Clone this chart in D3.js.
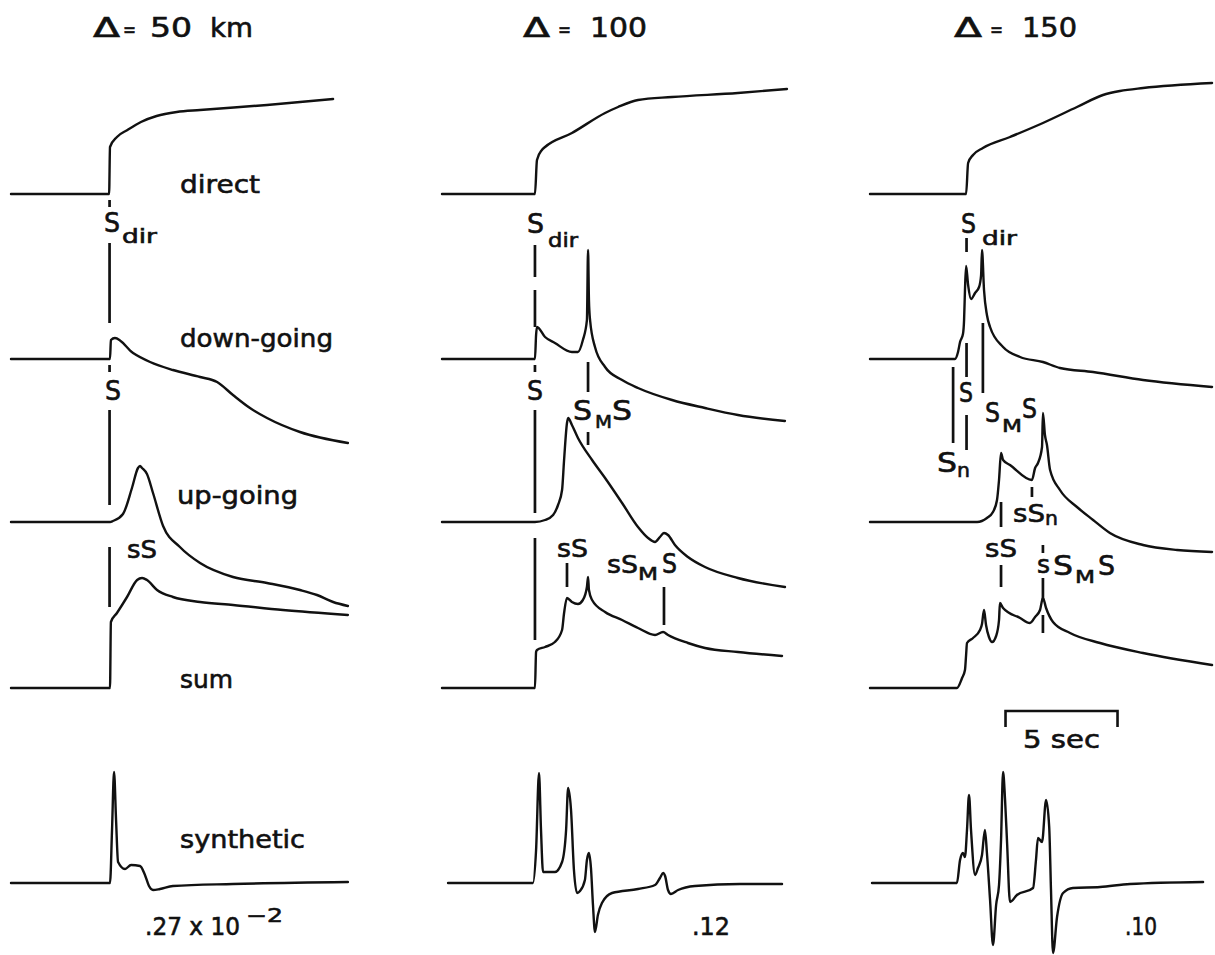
<!DOCTYPE html>
<html>
<head>
<meta charset="utf-8">
<script src="https://cdn.jsdelivr.net/npm/d3@7"></script>
<style>
  html, body { margin: 0; padding: 0; background: #fff; }
  svg { display: block; }
  text { font-family: "DejaVu Sans", sans-serif; fill: #111; stroke: #111; stroke-width: 0.6px; }
</style>
</head>
<body>
<svg id="fig" width="1215" height="955"></svg>
<script>
// Epicentral distances (km) and synthetic peak amplitudes
const distances = [50, 100, 150];
const rowNames = ["direct", "down-going", "up-going", "sum", "synthetic"];
const peakAmps = [".27 x 10", ".12", ".10"];

// Traces: [time (s), amplitude (relative units)]
const direct50 = [[0,0],[4.38,0],[4.42,4.7],[4.73,5.7],[5.2,6.4],[5.8,7.2],[6.5,7.8],[7.4,8.2],[8.44,8.4],[11.43,8.9],[14.38,9.5]];
const down50 = [[0,0],[4.42,0],[4.46,1.9],[4.64,2.1],[5.45,0.6],[6.21,-0.3],[7.23,-1.1],[8.44,-1.8],[9.2,-2.3],[9.91,-3.6],[10.67,-4.9],[11.43,-5.9],[12.9,-7.3],[15.04,-8.4]];
const up50 = [[0,0],[4.42,0],[4.55,0.1],[5.0,0.8],[5.4,3.4],[5.67,5.4],[5.76,5.6],[5.85,5.4],[6.07,4.8],[6.34,2.9],[6.79,-0.4],[7.54,-2.5],[8.44,-4.1],[9.91,-5.5],[11.43,-6.1],[12.9,-6.8],[13.66,-7.3],[14.38,-8.0],[15.04,-8.4]];
const sum50 = [[0,0],[4.42,0],[4.46,6.6],[4.73,7.5],[5.18,9.1],[5.63,10.8],[5.85,11.0],[6.07,10.8],[6.52,9.8],[7.23,9.1],[8.44,8.6],[9.91,8.3],[12.14,7.8],[15.04,7.3]];
const synth50 = [[0,0],[4.42,0],[4.51,5.3],[4.6,11.1],[4.69,6.3],[4.78,2.1],[5.09,1.4],[5.36,1.8],[5.76,1.7],[5.98,0.8],[6.16,-0.3],[6.34,-0.7],[6.65,-0.6],[7.23,-0.3],[9.91,-0.1],[15.04,0.1]];

const direct100 = [[0,0],[4.15,0],[4.24,3.4],[4.46,4.4],[4.6,4.7],[5.8,6.1],[7.28,8.1],[7.86,8.7],[8.75,9.4],[10.27,9.7],[13.21,10.1],[15.4,10.5]];
const down100 = [[0,0],[4.15,0],[4.2,2.4],[4.24,3.2],[4.6,2.2],[5.04,1.6],[5.8,0.7],[6.07,0.7],[6.29,1.9],[6.47,3.9],[6.52,10.9],[6.56,5.9],[6.61,3.9],[6.83,1.2],[7.28,-0.8],[8.04,-2.1],[8.75,-2.9],[10.27,-4.1],[11.74,-4.9],[13.21,-5.6],[15.31,-6.2]];
const up100 = [[0,0],[4.15,0],[4.6,0.2],[4.96,0.7],[5.18,1.7],[5.36,3.2],[5.45,6.2],[5.58,9.9],[5.63,10.4],[5.8,9.7],[6.07,8.4],[6.7,6.2],[7.28,4.4],[8.04,1.9],[8.75,-0.5],[9.2,-1.6],[9.51,-2.0],[9.73,-1.5],[9.91,-1.1],[10.09,-1.3],[10.4,-2.3],[10.98,-3.5],[11.74,-4.5],[13.21,-5.6],[15.31,-6.5]];
const sum100 = [[0,0],[4.15,0],[4.2,3.6],[4.24,3.8],[4.6,4.1],[5.04,4.6],[5.36,5.8],[5.45,7.5],[5.58,9.0],[5.8,8.6],[6.07,8.4],[6.29,8.8],[6.47,10.1],[6.52,11.1],[6.56,9.8],[6.7,8.8],[7.28,7.6],[8.04,6.8],[8.75,6.0],[9.51,5.3],[9.87,5.6],[10.09,5.3],[10.98,4.5],[11.74,4.0],[13.21,3.6],[15.18,3.2]];
const synth100 = [[0.27,0],[4.06,0],[4.2,3.3],[4.33,11.0],[4.42,5.3],[4.51,1.1],[5.04,1.1],[5.36,2.1],[5.54,5.3],[5.63,9.5],[5.76,7.3],[5.89,1.3],[6.03,-1.0],[6.16,-0.8],[6.38,0.3],[6.47,2.3],[6.56,3.0],[6.65,1.5],[6.74,-2.2],[6.83,-4.9],[6.96,-3.2],[7.14,-2.0],[7.59,-1.0],[8.75,-0.6],[9.51,-0.2],[9.73,0.5],[9.87,1.0],[9.96,0.7],[10.09,-0.7],[10.22,-1.1],[10.54,-0.7],[11.29,-0.3],[13.3,-0.1],[15.18,-0.1]];

const direct150 = [[0,0],[4.29,0],[4.38,3.1],[4.6,3.9],[5.04,4.6],[6.25,5.7],[7.72,7.1],[9.24,8.7],[10.4,9.9],[11.16,10.3],[12.19,10.6],[15.27,11.1]];
const down150 = [[0,0],[3.79,0],[3.93,0.7],[4.02,1.7],[4.15,2.5],[4.2,3.9],[4.24,6.9],[4.29,9.3],[4.38,7.4],[4.51,6.0],[4.69,6.6],[4.87,7.2],[4.96,8.4],[5.0,10.9],[5.09,6.9],[5.22,4.4],[5.36,3.2],[5.94,1.2],[6.7,0.2],[7.72,-0.3],[8.48,-0.9],[9.96,-1.3],[12.19,-2.1],[15.27,-2.8]];
const up150 = [[0,0],[4.78,0],[5.22,0.4],[5.49,1.0],[5.67,2.2],[5.76,4.2],[5.85,6.9],[5.94,6.2],[6.25,5.7],[7.23,4.2],[7.37,5.4],[7.5,5.9],[7.68,7.5],[7.72,10.9],[7.81,8.7],[7.9,7.7],[8.04,5.2],[8.48,3.2],[9.24,1.5],[9.96,0.2],[10.71,-1.1],[12.19,-2.3],[13.71,-2.8],[15.27,-3.0]];
const sum150 = [[0,0],[3.88,0],[4.11,1.0],[4.24,1.8],[4.29,3.3],[4.33,4.5],[4.6,5.0],[4.91,5.8],[5.0,6.4],[5.09,7.8],[5.18,6.3],[5.31,5.1],[5.45,4.6],[5.63,5.2],[5.76,6.8],[5.8,8.5],[5.94,8.0],[6.7,7.0],[7.14,6.5],[7.37,7.1],[7.59,7.8],[7.72,9.0],[7.86,8.0],[8.17,6.6],[8.93,5.5],[10.27,4.5],[12.19,3.5],[15.27,2.3]];
const synth150 = [[0.09,0],[3.88,0],[4.02,2.3],[4.15,3.0],[4.24,2.6],[4.33,5.3],[4.42,8.8],[4.51,5.3],[4.69,0.8],[4.82,1.5],[5.0,2.8],[5.13,5.3],[5.22,3.0],[5.36,-1.7],[5.49,-6.2],[5.63,-2.2],[5.76,-0.2],[5.85,4.3],[5.94,11.1],[6.03,8.3],[6.12,4.0],[6.25,-1.9],[6.56,-1.2],[7.28,-0.5],[7.41,2.3],[7.5,4.5],[7.68,4.1],[7.86,8.3],[8.0,5.6],[8.08,-0.7],[8.17,-7.0],[8.35,-3.4],[8.62,-1.0],[9.06,-0.5],[10.27,-0.4],[11.61,-0.1],[14.87,0.1]];

// Phase arrival times (s)
const arrivals50 = [["Sdir", 4.40], ["S", 4.40], ["sS", 4.40]];
const arrivals100 = [["Sdir", 4.15], ["S", 4.15], ["SMS", 6.52], ["sS", 5.58], ["sSMS", 9.91]];
const arrivals150 = [["Sdir", 4.31], ["S", 4.31], ["Sn", 3.71], ["SMS", 5.04], ["sS", 5.85], ["sSn", 7.23], ["sSMS", 7.72]];

// ---- layout ----
const svg = d3.select("#fig");
const colX0 = [11, 442, 870];          // left edge of each distance column
const pxPerSec = 22.4;
const rowBase = [194, 359, 522, 688, 883]; // zero line of each trace row
const ampPx = 10;                        // pixels per amplitude unit

const traces = [
  [direct50, down50, up50, sum50, synth50],
  [direct100, down100, up100, sum100, synth100],
  [direct150, down150, up150, sum150, synth150]
];
const arrivals = [arrivals50, arrivals100, arrivals150];

// vertical extents of the arrival marks, per column and phase
const markSpans = [
  { Sdir: [[200,207],[243,323]], S: [[365,372],[410,505]], sS: [[547,607]] },
  { Sdir: [[245,277],[290,327]], S: [[365,372],[410,513],[538,640]], SMS: [[362,392],[432,445]], sS: [[563,587]], sSMS: [[587,625]] },
  { Sdir: [[238,252]], S: [[343,377],[415,450]], Sn: [[367,443]], SMS: [[323,393]], sS: [[502,527],[565,587]], sSn: [[487,497]], sSMS: [[545,553],[578,600],[615,633]] }
];

const traceG = svg.append("g")
  .attr("fill", "none").attr("stroke", "#111")
  .attr("stroke-width", 2.4).attr("stroke-linejoin", "round").attr("stroke-linecap", "round");
const markG = svg.append("g").attr("stroke", "#111").attr("stroke-width", 2.7);

traces.forEach((rows, c) => {
  const x = d3.scaleLinear().domain([0, 5]).range([colX0[c], colX0[c] + 5 * pxPerSec]);
  rows.forEach((series, r) => {
    const y = d3.scaleLinear().domain([0, 10]).range([rowBase[r], rowBase[r] - 10 * ampPx]);
    const line = d3.line().x(d => x(d[0])).y(d => y(d[1])).curve(d3.curveMonotoneX);
    traceG.append("path").attr("d", line(series));
  });
  arrivals[c].forEach(([name, t]) => {
    (markSpans[c][name] || []).forEach(([y1, y2]) => {
      markG.append("line").attr("x1", x(t)).attr("x2", x(t)).attr("y1", y1).attr("y2", y2);
    });
  });
});

// text pieces: [text, left x, baseline, font size, width]
function put(pieces) {
  pieces.forEach(([s, x, y, fs, w]) => {
    const t = svg.append("text").attr("x", x).attr("y", y).attr("font-size", fs).text(s);
    if (w) t.attr("textLength", w).attr("lengthAdjust", "spacingAndGlyphs");
  });
}

// column headings
put([
  ["\u0394", 93, 37, 26, 27], ["=", 123, 36, 20, 13], [String(distances[0]), 150, 37, 27, 42], ["km", 210, 37, 27, 43],
  ["\u0394", 523, 37, 26, 27], ["=", 558, 36, 20, 13], [String(distances[1]), 590, 37, 27, 57],
  ["\u0394", 954, 37, 26, 28], ["=", 990, 36, 20, 13], [String(distances[2]), 1022, 37, 27, 55]
]);

// row names
put([
  [rowNames[0], 180, 193, 25, 80],
  [rowNames[1], 180, 347, 25, 153],
  [rowNames[2], 177, 504, 25, 121],
  [rowNames[3], 180, 688, 25, 53],
  [rowNames[4], 180, 848, 25, 125]
]);

// peak amplitudes
put([
  [peakAmps[0], 145, 935, 25, 95], ["\u22122", 246, 922, 19, 37],
  [peakAmps[1], 692, 935, 25, 38],
  [peakAmps[2], 1125, 935, 25, 32]
]);

// phase names
put([
  ["S", 104, 232, 26, 16], ["dir", 122, 243, 19, 35],
  ["S", 105, 400, 26, 16],
  ["sS", 127, 558, 25, 30],

  ["S", 527, 233, 26, 17], ["dir", 548, 247, 19, 30],
  ["S", 527, 400, 26, 16],
  ["S", 573, 420, 26, 19], ["M", 595, 428, 18, 17], ["S", 612, 420, 26, 20],
  ["sS", 557, 557, 25, 31],
  ["sS", 607, 573, 25, 31], ["M", 638, 580, 18, 20], ["S", 662, 573, 26, 15],

  ["S", 961, 233, 26, 15], ["dir", 982, 245, 19, 35],
  ["S", 959, 402, 26, 14],
  ["S", 985, 422, 26, 15], ["M", 1002, 432, 18, 20], ["S", 1022, 418, 26, 15],
  ["S", 937, 472, 26, 20], ["n", 957, 477, 19, 13],
  ["sS", 1013, 522, 25, 32], ["n", 1045, 525, 19, 13],
  ["sS", 985, 557, 25, 32],
  ["s", 1037, 573, 25], ["S", 1053, 575, 26, 20], ["M", 1075, 583, 18, 20], ["S", 1098, 575, 26, 17]
]);

// time scale bar: 5 s
{
  const x = d3.scaleLinear().domain([0, 5]).range([colX0[2], colX0[2] + 5 * pxPerSec]);
  const t0 = 6.05, t1 = t0 + 5;
  svg.append("path")
    .attr("d", `M${x(t0)},727 V711 H${x(t1)} V727`)
    .attr("fill", "none").attr("stroke", "#111").attr("stroke-width", 2.6);
  put([["5 sec", 1023, 748, 25, 77]]);
}
</script>
</body>
</html>
